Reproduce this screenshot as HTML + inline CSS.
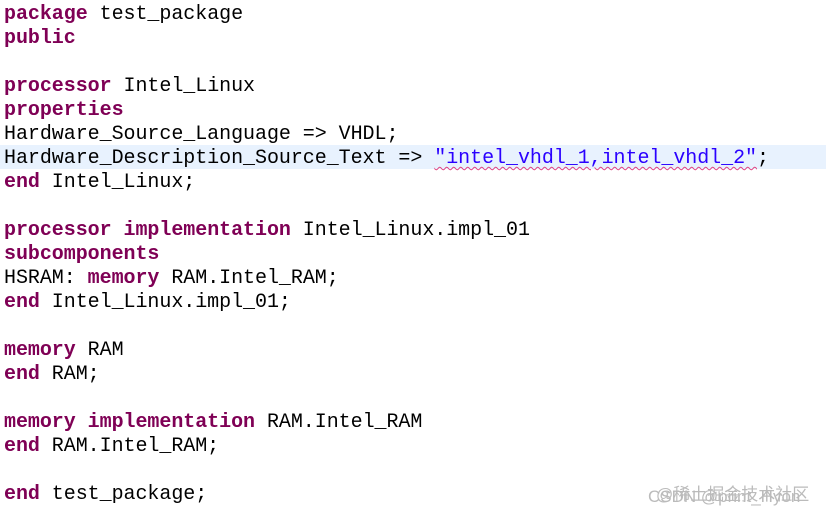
<!DOCTYPE html><html><head><style>
body{margin:0;width:826px;height:517px;background:#fff;overflow:hidden;position:relative}
pre{margin:0;position:absolute;left:4px;top:3px;font-family:"Liberation Mono",monospace;font-size:20px;line-height:24px;color:#000;letter-spacing:-0.05px}
b{color:#7f0055}
.s{color:#2a00ff;text-decoration:underline wavy #e04080;text-decoration-thickness:1px;text-underline-offset:3px}
.hl{position:absolute;left:0;top:145px;width:826px;height:24px;background:#e8f2fe}
.wm{position:absolute;font-family:"Liberation Sans","Noto Sans CJK SC",sans-serif;font-size:17px;color:#bbb}
</style></head><body>
<div class="hl"></div>
<pre><b>package</b> test_package
<b>public</b>

<b>processor</b> Intel_Linux
<b>properties</b>
Hardware_Source_Language =&gt; VHDL;
Hardware_Description_Source_Text =&gt; <span class="s">"intel_vhdl_1,intel_vhdl_2"</span>;
<b>end</b> Intel_Linux;

<b>processor</b> <b>implementation</b> Intel_Linux.impl_01
<b>subcomponents</b>
HSRAM: <b>memory</b> RAM.Intel_RAM;
<b>end</b> Intel_Linux.impl_01;

<b>memory</b> RAM
<b>end</b> RAM;

<b>memory</b> <b>implementation</b> RAM.Intel_RAM
<b>end</b> RAM.Intel_RAM;

<b>end</b> test_package;</pre>
<div class="wm" style="left:656px;top:480px">@稀土掘金技术社区</div>
<div class="wm" style="left:648px;top:487px">CSDN @print_Hyon</div>
</body></html>
